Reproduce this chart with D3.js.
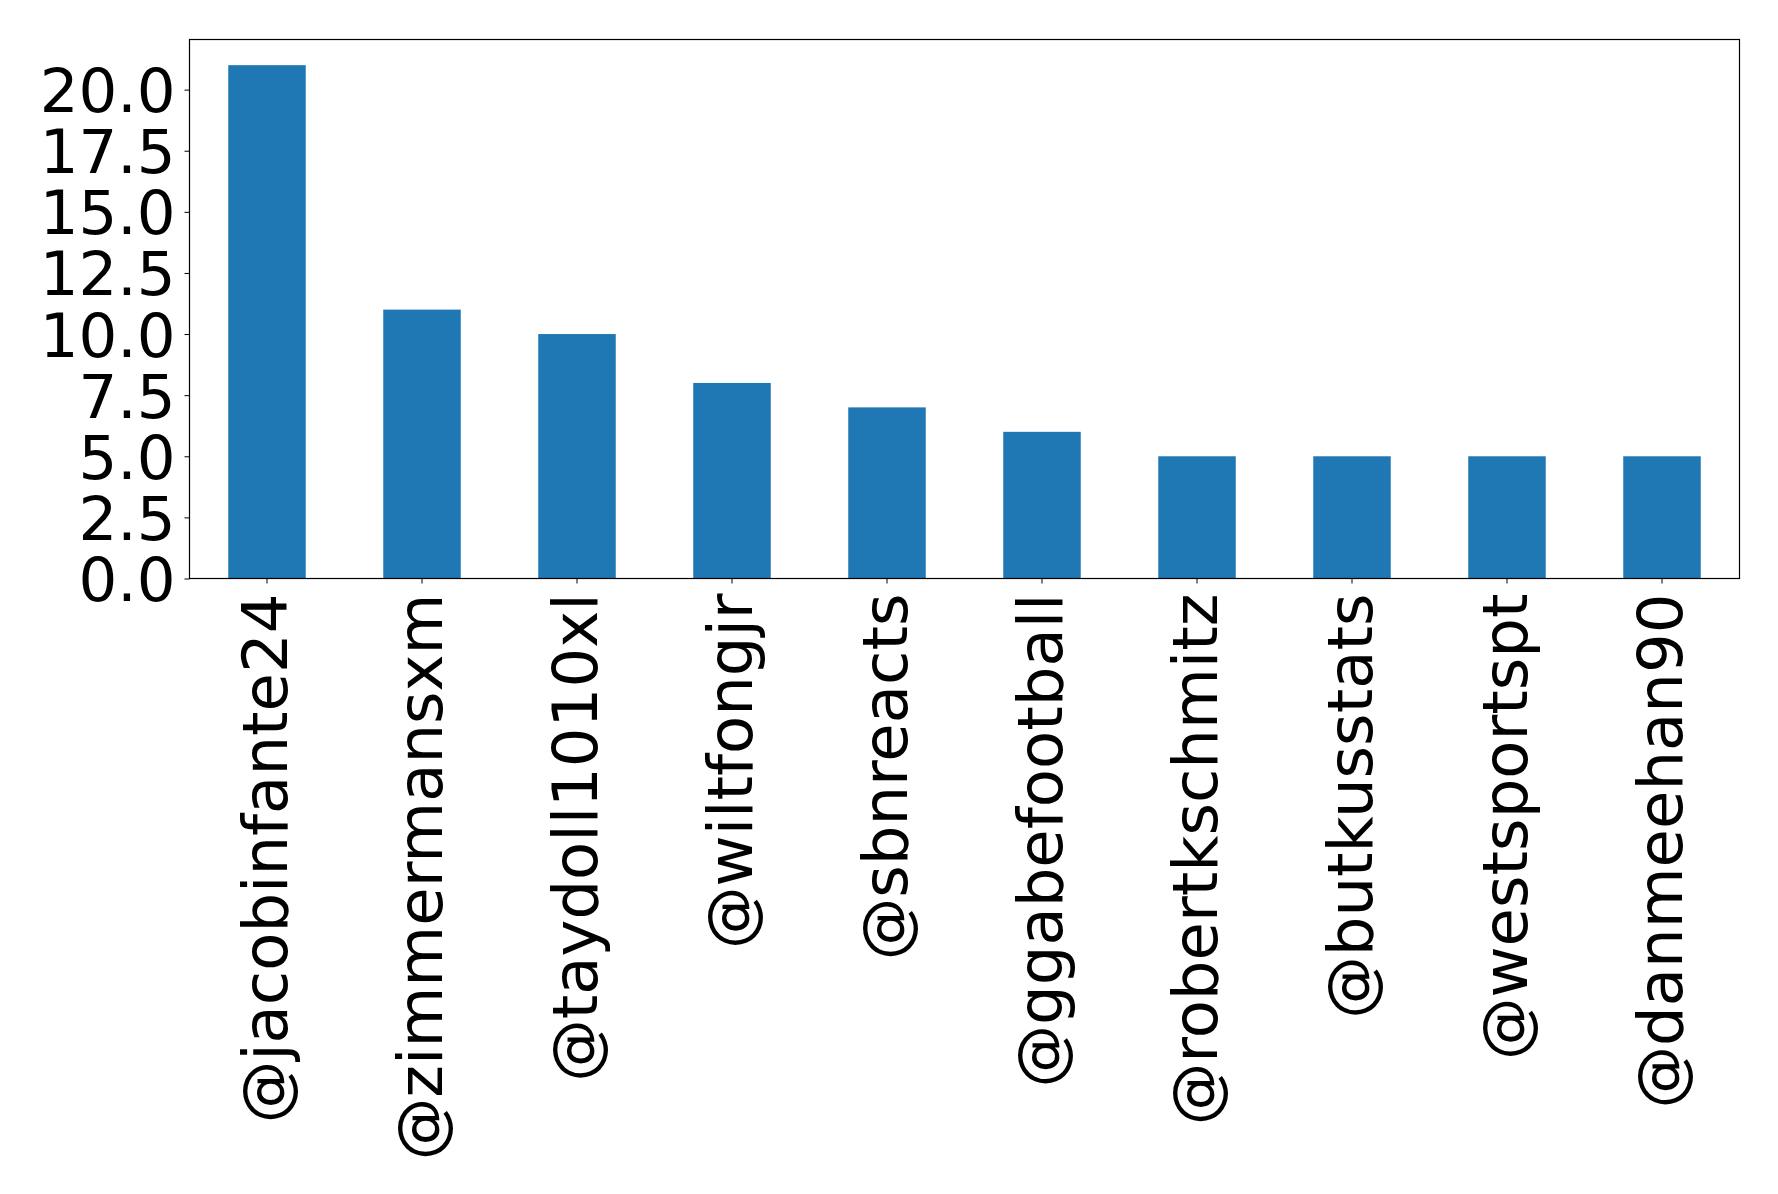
<!DOCTYPE html>
<html><head><meta charset="utf-8">
<script src="https://cdn.jsdelivr.net/npm/d3@7"></script>
<style>body{margin:0;background:#fff}svg{display:block}</style>
</head><body>
<script>
const categories = ["@jacobinfante24","@zimmermansxm","@taydoll1010xl","@wiltfongjr","@sbnreacts","@ggabefootball","@robertkschmitz","@butkusstats","@westsportspt","@danmeehan90"];
const values = [21, 11, 10, 8, 7, 6, 5, 5, 5, 5];
const yTicks = [0, 2.5, 5, 7.5, 10, 12.5, 15, 17.5, 20];

const W = 1778, H = 1194;
const m = {left: 189.5, right: 1739.5, top: 39.5, bottom: 578.5};
const svg = d3.select("body").append("svg").attr("width", W).attr("height", H);

const x = d3.scaleBand().domain(categories).range([m.left, m.right]).paddingInner(0.5).paddingOuter(0.25);
const y = d3.scaleLinear().domain([0, 22.05]).range([m.bottom, m.top]);

svg.append("g").selectAll("rect").data(values).join("rect")
  .attr("x", (d,i) => x(categories[i]))
  .attr("width", x.bandwidth())
  .attr("y", d => y(d))
  .attr("height", d => y(0) - y(d))
  .attr("fill", "#1f77b4");

const font = "DejaVu Sans";
const yAxis = svg.append("g").attr("transform", `translate(${m.left},0)`)
  .call(d3.axisLeft(y).tickValues(yTicks).tickFormat(d3.format(".1f")).tickSize(5).tickPadding(9));
yAxis.select(".domain").remove();
yAxis.selectAll("text").attr("font-family", font).attr("font-size", 61).attr("fill", "#000").attr("dy", "0.36em");
yAxis.selectAll("line").attr("stroke", "#000").attr("stroke-width", 1);

const xAxis = svg.append("g").attr("transform", `translate(0,${m.bottom})`)
  .call(d3.axisBottom(x).tickSize(5).tickPadding(0));
xAxis.select(".domain").remove();
xAxis.selectAll("line").attr("stroke", "#000").attr("stroke-width", 1);
xAxis.selectAll("text")
  .attr("font-family", font).attr("font-size", 62.5).attr("fill", "#000")
  .attr("text-anchor", "end")
  .attr("dy", null)
  .attr("dominant-baseline", "central")
  .attr("transform", "translate(-2,15) rotate(-90)")
  .attr("y", 0).attr("x", 0);

svg.append("rect").attr("x", m.left).attr("y", m.top)
  .attr("width", m.right - m.left).attr("height", m.bottom - m.top)
  .attr("fill", "none").attr("stroke", "#000").attr("stroke-width", 1.2);
</script>
</body></html>
